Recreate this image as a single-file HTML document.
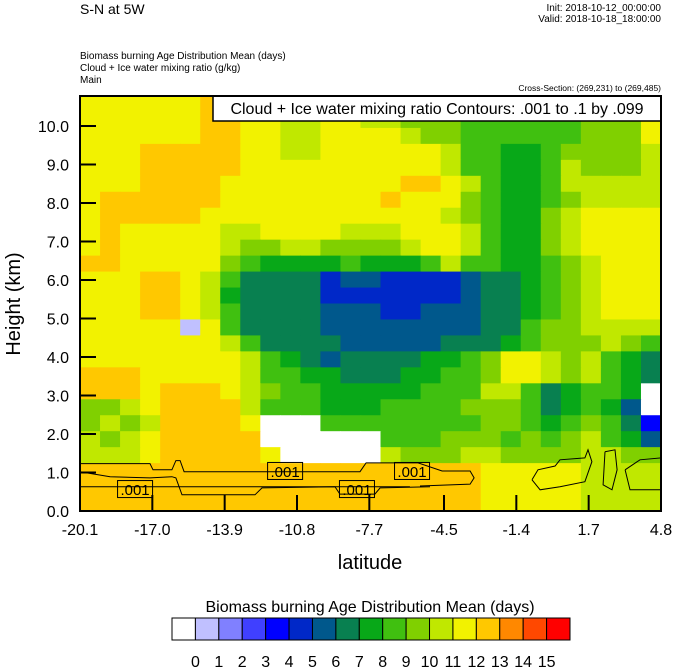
<!DOCTYPE html>
<html><head><meta charset="utf-8">
<style>
html,body{margin:0;padding:0;background:#fff;}
body{width:674px;height:668px;overflow:hidden;font-family:"Liberation Sans",sans-serif;}
svg{display:block;}
</style></head>
<body>
<svg id="chart" width="674" height="668" viewBox="0 0 674 668" xmlns="http://www.w3.org/2000/svg" font-family="Liberation Sans, sans-serif">
  <text x="80" y="14" font-size="14">S-N at 5W</text>
  <text x="661" y="11" font-size="10" text-anchor="end">Init: 2018-10-12_00:00:00</text>
  <text x="661" y="22" font-size="10" text-anchor="end">Valid: 2018-10-18_18:00:00</text>
  <text x="80" y="59" font-size="10">Biomass burning Age Distribution Mean   (days)</text>
  <text x="80" y="71" font-size="10">Cloud + Ice water mixing ratio   (g/kg)</text>
  <text x="80" y="83" font-size="10">Main</text>
  <text x="661" y="91" font-size="8.5" text-anchor="end">Cross-Section: (269,231) to (269,485)</text>
  <g id="cells"></g>
  <g id="contours" fill="none" stroke="#000" stroke-width="1"></g>
  <g id="clabels"></g>
  <rect x="213" y="96" width="448" height="25" fill="#fff" stroke="#000" stroke-width="1.5"/>
  <text x="437" y="114" font-size="16" text-anchor="middle">Cloud + Ice water mixing ratio Contours: .001 to .1 by .099</text>
  <rect x="80" y="96" width="581" height="415" fill="none" stroke="#000" stroke-width="2"/>
  <g id="axes"></g>
  <text transform="translate(20,304) rotate(-90)" font-size="20" text-anchor="middle">Height (km)</text>
  <text x="370" y="569" font-size="20" text-anchor="middle">latitude</text>
  <text x="370" y="612" font-size="16" text-anchor="middle">Biomass burning Age Distribution Mean  (days)</text>
  <g id="colorbar"></g>
</svg>
<script>
const xTicks = [-20.1, -17.0, -13.9, -10.8, -7.7, -4.5, -1.4, 1.7, 4.8];
const xTickLabels = ["-20.1","-17.0","-13.9","-10.8","-7.7","-4.5","-1.4","1.7","4.8"];
const yTicks = [0,1,2,3,4,5,6,7,8,9,10];
const yTickLabels = ["0.0","1.0","2.0","3.0","4.0","5.0","6.0","7.0","8.0","9.0","10.0"];
const levelLabels = ["0","1","2","3","4","5","6","7","8","9","10","11","12","13","14","15"];
const levelColors = ["#ffffff","#c0c0ff","#8080ff","#4040ff","#0000ff","#0028c8","#00588c","#088050","#08a818","#40c010","#80d000","#c0e800","#f2f200","#ffc800","#ff8800","#ff4800","#ff0000"];
// Mean age grid (level index, hex), rows top->bottom, 29 columns
const ageRows = [
["cccccc","dd","cccccc","bb","aaa","999999","aaa","c"].join(''),
["cccccc","dd","cc","bb","cc","bb","aaa","999999","aaa","c"].join(''),
["cccccc","dd","cc","bb","cc","cc","baa","999999","aaa","c"].join(''),
["ccc","ddddd","cc","bb","cc","cccc","b","99","88","9","aaaa","b"].join(''),
["ccc","ddddd","cccccc","cccc","b","99","88","9","baaa","b"].join(''),
["ccc","dddd","c","cccccc","cc","dd","c","b","9","88","9","bbbbb"].join(''),
["c","dddddd","c","cccccc","c","d","ccc","a","9","88","9","a","bbbb"].join(''),
["c","ddddd","cc","cccccc","cccc","b","a","9","88","a","b","cccc"].join(''),
["cd","ccccc","bb","cccc","bb","b","ccc","b","9","88","a","b","cccc"].join(''),
["cd","ccccc","baabbaa","a","ab","cc","b","9","88","a","b","cccc"].join(''),
["dd","cccc","c","a","9","888","8","9","8","88","9","b","99","88","9","a","b","ccc"].join(''),
["ccc","dd","c","b","9","7777","5","6","6","5555","6","7","7","8","9","a","b","ccc"].join(''),
["ccc","dd","c","b","8","7777","55","5","5555","6","7","7","8","9","a","b","ccc"].join(''),
["ccc","dd","c","b","9","7777","666","55","666","7","7","8","9","a","b","ccc"].join(''),
["ccccc","1","c","9","7777","666","66666","77","9","aa","bbbb"].join(''),
["cccccc","c","b","9","7777","66","666","777","8","9","aaa","b","a","9"].join(''),
["cccccccc","b","9","8","7","6","77","77","88","9","a","cc","b","a","b","9","8","7"].join(''),
["ddd","ccccc","b","99","88","77","7","88","99","a","cc","b","a","b","9","8","7"].join(''),
["ddd","c","ddd","c","b","a","99","888","88","999","bb","9","7","8","99","8","0"].join(''),
["aab","c","dddd","b","999","888","9999","aaa","9","7","8","9","8","6","0"].join(''),
["abab","dddd","c","000","999","99999","aa","9","8","9","a","9","7","4"].join(''),
["bab","c","ddddd","000000","999","aaa","9","a","9","a","b","9","8","6"].join(''),
["bbb","c","ddddd","c","00000","b","aaa","bb","aaaa","bb","aa"].join(''),
["dddddddddddddddddddd","ccccc","bbbb"].join(''),
["dddddddddddddddddddd","ccccc","bbbb"].join(''),
["dddddddddddddddddddd","ccccc","bbbb"].join('')
];
// Cloud contours as [latitude, km] pairs
const contour1 = [[-20.1,1.23],[-17.1,1.23],[-16.97,1.07],[-16.16,1.07],[-15.99,1.31],[-15.81,1.31],[-15.64,1.02],[-8.1,1.02],[-7.84,1.25],[-5.61,1.25],[-4.58,1.04],[-3.38,1.04],[-3.21,0.86],[-3.38,0.70],[-5.53,0.65]];
const contour2 = [[-20.1,1.02],[-18.81,0.89],[-17.1,0.86],[-16.16,0.89],[-15.99,0.86],[-15.73,0.42],[-12.6,0.42],[-12.3,0.60],[-9.17,0.63],[-8.96,0.44],[-7.46,0.44],[-7.24,0.60],[-5.1,0.63]];
const contour3 = [[-20.1,0.63],[-5.96,0.63]];
const contour4 = [[-0.73,0.81],[-0.47,1.07],[0.26,1.17],[0.47,1.33],[1.54,1.38],[1.67,1.59],[1.84,1.28],[1.54,0.76],[0.47,0.63],[-0.38,0.55],[-0.73,0.81]];
const contour5 = [[2.4,1.54],[2.83,1.59],[2.92,1.07],[2.7,0.55],[2.32,0.68],[2.4,1.54]];
const contour6 = [[3.26,1.07],[3.9,1.33],[4.8,1.38],[4.8,0.55],[3.47,0.55],[3.26,1.07]];
const labelLat = [-17.74,-11.31,-8.23,-5.87];
const labelKm = [0.57,1.04,0.57,1.04];
const labelText = [".001",".001",".001",".001"];

const NS="http://www.w3.org/2000/svg";
const X0=80,X1=661,Y0=511,Y1=96;
const latMin=-20.1,latMax=4.8,kmPerPx=38.5;
function xs(lat){return X0+(lat-latMin)/(latMax-latMin)*(X1-X0);}
function ys(km){return Y0-km*kmPerPx;}
function mk(tag,attrs,parent){const e=document.createElementNS(NS,tag);for(const k in attrs)e.setAttribute(k,attrs[k]);parent.appendChild(e);return e;}

const cells=document.getElementById('cells');
const nRows=ageRows.length;
const kmTop=(Y0-Y1)/kmPerPx;
const nCols=29;
const latStep=(latMax-latMin)/nCols, kmStep=kmTop/nRows;
for(let r=0;r<nRows;r++){
  const row=ageRows[r];
  for(let c=0;c<nCols;c++){
    const ch=row[Math.min(c,row.length-1)];
    const v=parseInt(ch,17);
    const la=latMin+c*latStep, kmv=kmTop-r*kmStep;
    const x=xs(la), y=ys(kmv);
    const rect=mk('rect',{x:x.toFixed(2),y:y.toFixed(2),width:(xs(la+latStep)-x+0.6).toFixed(2),height:(ys(kmv-kmStep)-y+0.6).toFixed(2),fill:levelColors[v]},cells);
    
    
  }
}
const cg=document.getElementById('contours');
[contour1,contour2,contour3,contour4,contour5,contour6].forEach(pts=>{
  const p=mk('polyline',{points:pts.map(q=>xs(q[0]).toFixed(1)+','+ys(q[1]).toFixed(1)).join(' ')},cg);
  
  
});
const lg=document.getElementById('clabels');
labelLat.forEach((la,i)=>{
  const cx=xs(la), cy=ys(labelKm[i]);
  const b=mk('rect',{x:cx-17.5,y:cy-8.5,width:35,height:17,fill:'none',stroke:'#000','stroke-width':1},lg);
  
  
  const t=mk('text',{x:cx,y:cy+6,'font-size':15,'text-anchor':'middle'},lg);
  t.textContent=labelText[i];
  
  
});
const ax=document.getElementById('axes');
xTicks.forEach((v,i)=>{
  const x=xs(v);
  const l=mk('line',{x1:x,x2:x,y1:Y0,y2:Y0-16,stroke:'#000','stroke-width':2},ax);
  
  
  const t=mk('text',{x:x,y:535,'font-size':16,'text-anchor':'middle'},ax);
  t.textContent=xTickLabels[i];
  
  
});
yTicks.forEach((v,i)=>{
  const y=ys(v);
  const l=mk('line',{x1:X0,x2:X0+16,y1:y,y2:y,stroke:'#000','stroke-width':2},ax);
  
  
  const t=mk('text',{x:69,y:y+6,'font-size':16,'text-anchor':'end'},ax);
  t.textContent=yTickLabels[i];
  
  
});
const cb=document.getElementById('colorbar');
const cbX=172,cbW=398,cbY=618,cbH=22,bw=cbW/levelColors.length;
levelColors.forEach((col,i)=>{
  const r=mk('rect',{x:cbX+i*bw,y:cbY,width:bw,height:cbH,fill:col,stroke:'#000','stroke-width':1},cb);
  
  
});
levelLabels.forEach((s,i)=>{
  const t=mk('text',{x:cbX+(i+1)*bw,y:667,'font-size':16,'text-anchor':'middle'},cb);
  t.textContent=s;
  
  
});
</script>
</body></html>
